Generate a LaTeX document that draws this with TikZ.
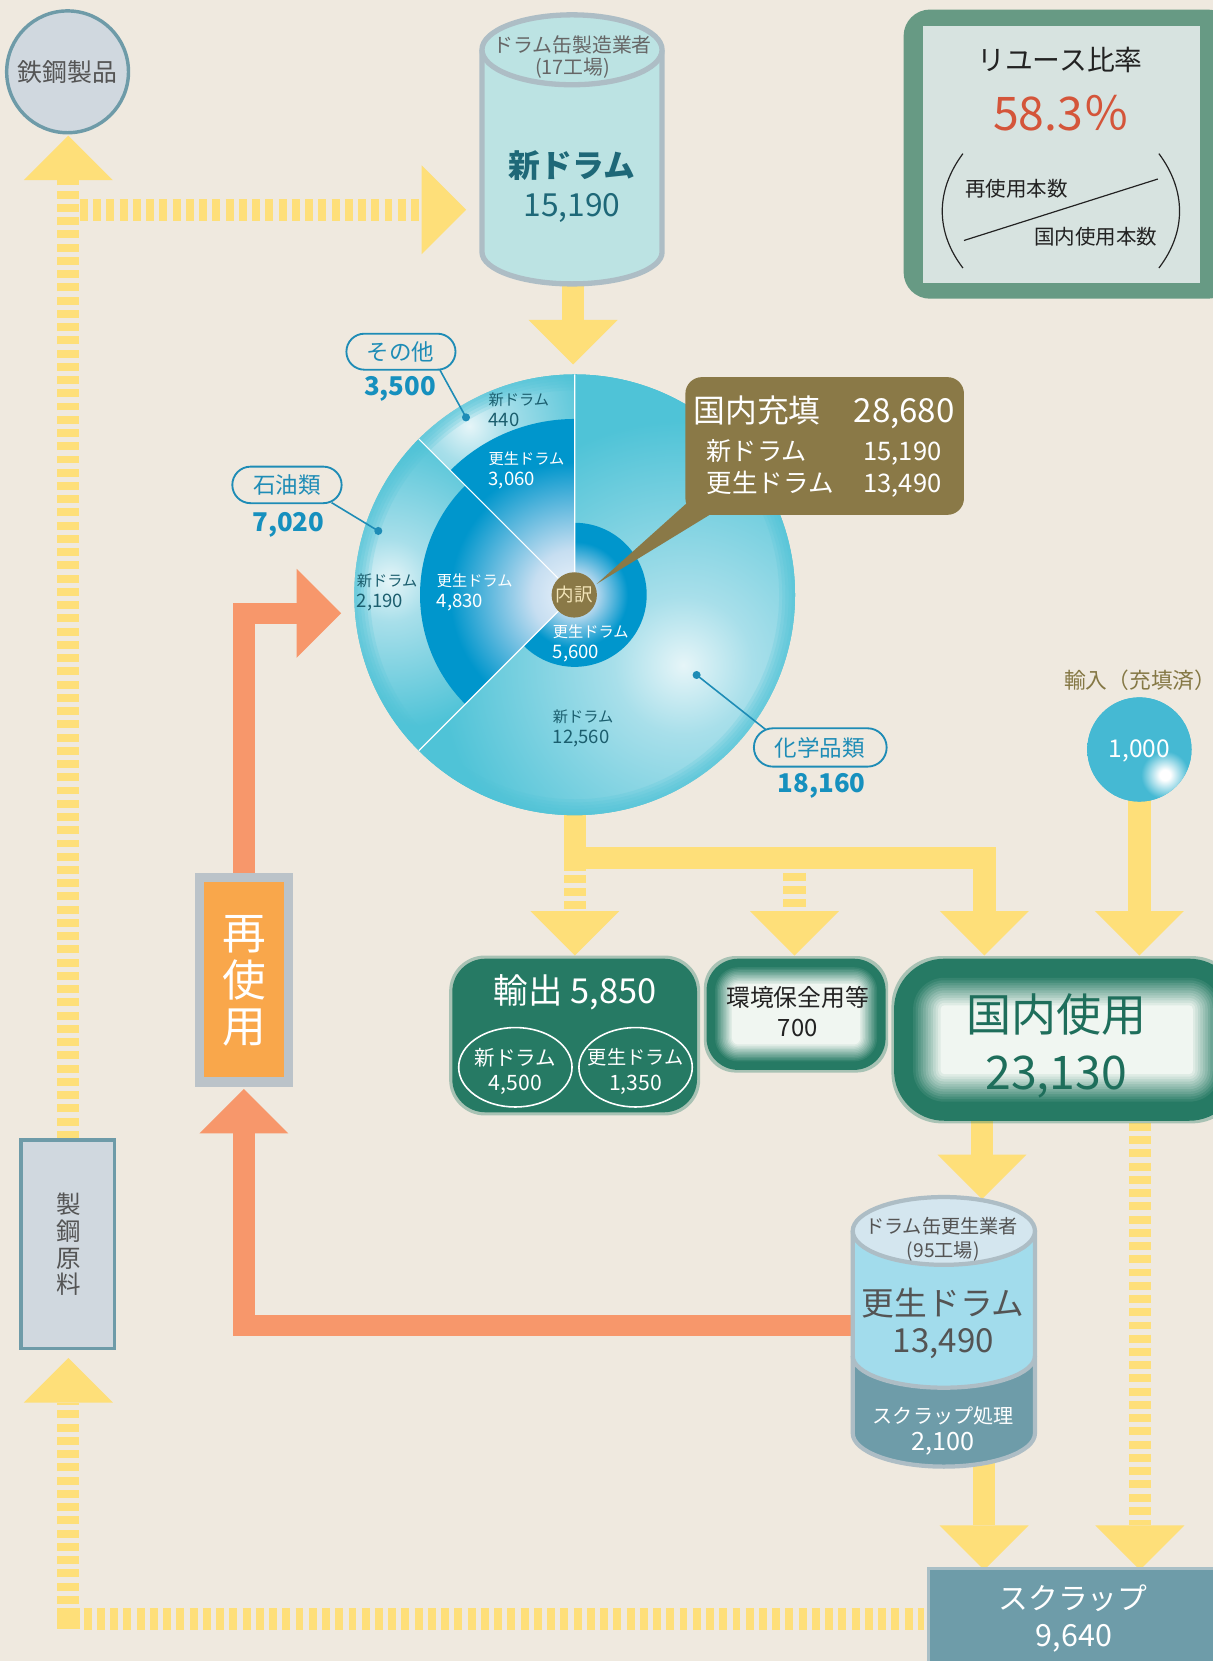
\documentclass[tikz,border=0pt]{standalone}
\usepackage{fontspec}
\setmainfont{Noto Sans CJK JP}
\usetikzlibrary{calc}
\definecolor{bg}{HTML}{EFE9DF}
\definecolor{yel}{HTML}{FEDF79}
\definecolor{ora}{HTML}{F7976B}
\definecolor{reuse}{HTML}{F9A74B}
\definecolor{reusebd}{HTML}{BBC3C9}
\definecolor{steel}{HTML}{D0D8DF}
\definecolor{steelbd}{HTML}{6E9BA8}
\definecolor{cylA}{HTML}{BCE3E3}
\definecolor{cylbd}{HTML}{ADBDC5}
\definecolor{tealt}{HTML}{1E6878}
\definecolor{graytxt}{HTML}{666666}
\definecolor{darkgray}{HTML}{545454}
\definecolor{oul}{HTML}{E6F5F8}
\definecolor{oum}{HTML}{A8DFEA}
\definecolor{oue}{HTML}{4FC3D7}
\definecolor{il0}{HTML}{EEF4FB}
\definecolor{il1}{HTML}{C6DEF1}
\definecolor{inb}{HTML}{0096CC}
\definecolor{olive}{HTML}{8A7947}
\definecolor{naiyaku}{HTML}{F2E4B8}
\definecolor{pillc}{HTML}{1E8CB6}
\definecolor{numc}{HTML}{1690BE}
\definecolor{dteal}{HTML}{1B5E6E}
\definecolor{gdark}{HTML}{267A64}
\definecolor{glight}{HTML}{F0F6F1}
\definecolor{gtext}{HTML}{1E6E5B}
\definecolor{ratioout}{HTML}{679A84}
\definecolor{ratioin}{HTML}{D7E3E0}
\definecolor{ratiored}{HTML}{D4553A}
\definecolor{ratiotxt}{HTML}{222222}
\definecolor{cylBbody}{HTML}{A2DCEC}
\definecolor{cylBtop}{HTML}{D4E6EF}
\definecolor{cylBlow}{HTML}{6E9CA9}
\definecolor{scrapbd}{HTML}{A9BFC6}
\definecolor{imp}{HTML}{45B9D3}
\definecolor{impttl}{HTML}{857845}

% shadings at natural size (1 drawing unit = 0.8pt ~ 0.8bp)
\pgfdeclareradialshading{shSono}{\pgfpoint{0bp}{0bp}}{color(0bp)=(oul); color(27bp)=(oum); color(96bp)=(oue); color(400bp)=(oue)}
\pgfdeclareradialshading{shSeki}{\pgfpoint{0bp}{0bp}}{color(0bp)=(oul); color(31bp)=(oum); color(112bp)=(oue); color(400bp)=(oue)}
\pgfdeclareradialshading{shChem}{\pgfpoint{0bp}{0bp}}{color(0bp)=(oul); color(52bp)=(oum); color(184bp)=(oue); color(400bp)=(oue)}
\pgfdeclareradialshading{shIn56}{\pgfpoint{0bp}{0bp}}{color(0bp)=(il0); color(14bp)=(il1); color(40bp)=(inb); color(200bp)=(inb)}
\pgfdeclareradialshading{shIn30}{\pgfpoint{0bp}{0bp}}{color(0bp)=(il0); color(34bp)=(il1); color(100bp)=(inb); color(200bp)=(inb)}
\pgfdeclareradialshading{shIn48}{\pgfpoint{0bp}{0bp}}{color(0bp)=(il0); color(32bp)=(il1); color(94bp)=(inb); color(200bp)=(inb)}
\pgfdeclareradialshading{shHil}{\pgfpoint{0bp}{0bp}}{color(0bp)=(white); color(4bp)=(white); color(18bp)=(imp); color(120bp)=(imp)}

\newcommand\jtxt[5]{%
  \pgfmathsetmacro\jtxth{0.76*#3}%
  \node[inner sep=0pt, text height=\jtxth pt, text depth=0pt, font=\fontsize{#3}{#3}\selectfont, #4] (#1) at (#2) {#5};}
\newcommand\arDown[2][yel]{\fill[#1] ($(#2)+(-42,0)$) -- ($(#2)+(42,0)$) -- ($(#2)+(0,42)$) -- cycle;}
\newcommand\arUp[2][yel]{\fill[#1] ($(#2)+(-42,0)$) -- ($(#2)+(42,0)$) -- ($(#2)+(0,-42)$) -- cycle;}
\newcommand\arRight[2][yel]{\fill[#1] ($(#2)+(0,-42)$) -- ($(#2)+(0,42)$) -- ($(#2)+(42,0)$) -- cycle;}
\newcommand\glowbox[7]{%
  \fill[gdark, opacity=0.35, rounded corners=#5pt] ($(#1,#2)+(-2.5,-2.5)$) rectangle ($(#3,#4)+(2.5,2.5)$);
  \fill[gdark, rounded corners=#5pt] (#1,#2) rectangle (#3,#4);
  \foreach \k in {1,...,12}{%
    \pgfmathsetmacro\gdd{#6+(\k-1)*#7/11}%
    \pgfmathtruncatemacro\gpp{\k*100/12}%
    \pgfmathsetmacro\grr{max(#5-\gdd*0.8,2)}%
    \fill[glight!\gpp!gdark, rounded corners=\grr pt] ($(#1,#2)+(\gdd,\gdd)$) rectangle ($(#3,#4)-(\gdd,\gdd)$);
  }}

\begin{document}
\begin{tikzpicture}[x=0.8pt,y=-0.8pt,
  ysol/.style={draw=yel, line width=16.8pt},
  ydash/.style={draw=yel, line width=16.8pt, dash pattern=on 6pt off 4pt},
  oline/.style={draw=ora, line width=16pt, line join=miter},
  pill/.style={draw=pillc, line width=1.4pt, fill=bg},
  leader/.style={draw=pillc, line width=1.2pt},
  shnode/.style={inner sep=0pt, outer sep=0pt}]
\useasboundingbox (0,0) rectangle (1145,1568);
\fill[bg] (0,0) rectangle (1145,1568);
\clip (0,0) rectangle (1145,1568);

% ================= coordinates for flows
\coordinate (kouT) at (64.5,1075);
\coordinate (tlUp) at (64.5,170);
\coordinate (tlH0) at (75.5,198);
\coordinate (tlHr) at (398,198);
\coordinate (cylAbot) at (541,266);
\coordinate (hA) at (541,302);
\coordinate (blH0) at (79,1528);
\coordinate (blH1) at (872,1528);
\coordinate (blV0) at (64.5,1514);
\coordinate (blUp) at (64.5,1324);
\coordinate (dBot) at (542.7,768);
\coordinate (dJ) at (542.7,822);
\coordinate (dD0) at (542.7,826);
\coordinate (hL) at (542.7,860);
\coordinate (hBar) at (542.7,810);
\coordinate (hBarR) at (929.3,810);
\coordinate (hR) at (929.3,860);
\coordinate (mD0) at (750,824);
\coordinate (hM) at (750,860);
\coordinate (impB) at (1075.6,755);
\coordinate (hI) at (1075.6,860);
\coordinate (kokB) at (927,1056);
\coordinate (hK) at (927,1090);
\coordinate (kokB2) at (1076,1060);
\coordinate (hS2) at (1076,1440);
\coordinate (cylBbot) at (929,1380);
\coordinate (hS1) at (929,1440);
\coordinate (oS) at (806,1251);
\coordinate (oC1) at (230.3,1251);
\coordinate (oUp) at (230.3,1070);
\coordinate (oT) at (230.3,826);
\coordinate (oC2) at (230.3,579);
\coordinate (oR) at (280,579);

% ================= yellow flows
\draw[ydash] (kouT) -- (tlUp); \arUp{tlUp}
\draw[ydash] (tlH0) -- (tlHr); \arRight{tlHr}
\draw[ysol] (cylAbot) -- (hA); \arDown{hA}
\fill[yel] (53.5,1518) rectangle (75.5,1538);
\draw[ydash] (blH0) -- (blH1);
\draw[ydash] (blV0) -- (blUp); \arUp{blUp}
\draw[ysol] (dBot) -- (dJ);
\draw[ydash] (dD0) -- (hL); \arDown{hL}
\draw[ysol, line join=miter] (hBar) -- (hBarR) -- (hR); \arDown{hR}
\draw[ydash] (mD0) -- (hM); \arDown{hM}
\draw[ysol] (impB) -- (hI); \arDown{hI}
\draw[ysol] (kokB) -- (hK); \arDown{hK}
\draw[ydash] (kokB2) -- (hS2); \arDown{hS2}
\draw[ysol] (cylBbot) -- (hS1); \arDown{hS1}

% ================= orange flows
\draw[oline] (oS) -- (oC1) -- (oUp); \arUp[ora]{oUp}
\draw[oline] (oT) -- (oC2) -- (oR); \arRight[ora]{oR}

% ================= steel product circle
\draw[fill=steel, draw=steelbd, line width=2.6pt] (63.8,67.8) circle (57.5);
\jtxt{tekko}{63.8,67.8}{18.8}{color=darkgray}{鉄鋼製品}

% ================= steelmaking raw material box
\draw[fill=steel, draw=steelbd, line width=2.6pt] (20,1076) rectangle (108,1273);
\jtxt{k1}{64.5,1137}{18.5}{color=darkgray}{製}
\jtxt{k2}{64.5,1162.5}{18.5}{color=darkgray}{鋼}
\jtxt{k3}{64.5,1187.5}{18.5}{color=darkgray}{原}
\jtxt{k4}{64.5,1212}{18.5}{color=darkgray}{料}

% ================= reuse box
\fill[reusebd] (184,824) rectangle (277,1026);
\fill[reuse] (193,833) rectangle (268,1017);
\jtxt{r1}{230.3,880.7}{33}{color=white}{再}
\jtxt{r2}{230.3,924.7}{33}{color=white}{使}
\jtxt{r3}{230.3,968.6}{33}{color=white}{用}

% ================= new drum cylinder
\fill[cylA] (455,47) rectangle (625,238);
\fill[cylA] (540,238) ellipse [x radius=85, y radius=30];
\draw[cylbd, line width=4pt] (455,47) -- (455,238) arc[start angle=180, end angle=0, x radius=85, y radius=30] -- (625,47);
\draw[cylbd, line width=4pt, fill=cylA] (540,47) ellipse [x radius=85, y radius=33];
\jtxt{mfg1}{540.6,42.5}{15}{color=graytxt}{ドラム缶製造業者}
\jtxt{mfg2}{540.6,63}{15}{color=graytxt}{(17工場)}
\jtxt{newd}{540,155.7}{24}{color=tealt, font=\fontsize{24}{24}\selectfont\bfseries}{新ドラム}
\jtxt{newn}{540,192.6}{24}{color=tealt}{15,190}

% ================= donut chart
\coordinate (dc) at (542.5,561.5);
\fill[oue] (dc) circle (208);
\begin{scope}
  \clip (dc) -- ++(-90:208) arc[start angle=-90, end angle=-135, radius=208] -- cycle;
  \node[shnode] (shA) at (443,402) {\pgfuseshading{shSono}};
\end{scope}
\begin{scope}
  \clip (dc) -- ++(-135:208) arc[start angle=-135, end angle=-225, radius=208] -- cycle;
  \node[shnode] (shB) at (368,548) {\pgfuseshading{shSeki}};
\end{scope}
\begin{scope}
  \clip (dc) -- ++(-225:208) arc[start angle=-225, end angle=-450, radius=208] -- cycle;
  \node[shnode] (shC) at (645,628) {\pgfuseshading{shChem}};
\end{scope}
\begin{scope}
  \clip (dc) circle (208);
  \foreach \w in {6,12,18,24,30}{\draw[oue, opacity=0.2, line width=\w*0.8pt] (dc) circle (208);}
\end{scope}
\begin{scope}
  \clip (dc) circle (68);
  \node[shnode] (shD) at (dc) {\pgfuseshading{shIn56}};
\end{scope}
\begin{scope}
  \clip (dc) -- ++(-90:166) arc[start angle=-90, end angle=-135, radius=166] -- cycle;
  \node[shnode] (shE) at (dc) {\pgfuseshading{shIn30}};
\end{scope}
\begin{scope}
  \clip (dc) -- ++(-135:146) arc[start angle=-135, end angle=-225, radius=146] -- cycle;
  \node[shnode] (shF) at (dc) {\pgfuseshading{shIn48}};
\end{scope}
\draw[white, line width=0.9pt] (dc) -- ++(-90:208) (dc) -- ++(-135:208) (dc) -- ++(-225:208);

% donut labels
\jtxt{l1a}{461,377.6}{11.5}{anchor=west, color=dteal}{新ドラム}
\jtxt{l1b}{461,395.8}{14}{anchor=west, color=dteal}{440}
\jtxt{l2a}{461,432.6}{11.5}{anchor=west, color=white}{更生ドラム}
\jtxt{l2b}{461,451.5}{14}{anchor=west, color=white}{3,060}
\jtxt{l3a}{336.7,548.1}{11.5}{anchor=west, color=dteal}{新ドラム}
\jtxt{l3b}{336.7,567}{14}{anchor=west, color=dteal}{2,190}
\jtxt{l4a}{412.2,548}{11.5}{anchor=west, color=white}{更生ドラム}
\jtxt{l4b}{412.2,567}{14}{anchor=west, color=white}{4,830}
\jtxt{l5a}{521.7,596.2}{11.5}{anchor=west, color=white}{更生ドラム}
\jtxt{l5b}{521.7,615}{14}{anchor=west, color=white}{5,600}
\jtxt{l6a}{521.7,677}{11.5}{anchor=west, color=dteal}{新ドラム}
\jtxt{l6b}{521.7,695.4}{14}{anchor=west, color=dteal}{12,560}

% category pills and leaders
\draw[leader] (415.3,349.3) -- (439.9,394); \fill[pillc] (439.9,394) circle (3.8);
\draw[leader] (313,474.5) -- (357.1,501.2); \fill[pillc] (357.1,501.2) circle (3.8);
\draw[leader] (725.2,690.6) -- (657.6,637.2); \fill[pillc] (657.6,637.2) circle (3.8);
\draw[pill, rounded corners=13.6pt] (327,315) rectangle (430,349);
\draw[pill, rounded corners=13.8pt] (219.3,440.5) rectangle (322.5,475);
\draw[pill, rounded corners=14.4pt] (711.7,687.5) rectangle (837,723.7);
\jtxt{p1}{378,332}{17}{color=pillc}{その他}
\jtxt{p2}{271,458}{17}{color=pillc}{石油類}
\jtxt{p3}{774,706}{17}{color=pillc}{化学品類}
\jtxt{n1}{377.6,364.4}{19.5}{color=numc, font=\fontsize{19.5}{19.5}\selectfont\bfseries}{3,500}
\jtxt{n2}{272.2,492.4}{19.5}{color=numc, font=\fontsize{19.5}{19.5}\selectfont\bfseries}{7,020}
\jtxt{n3}{775.6,738.8}{19.5}{color=numc, font=\fontsize{19.5}{19.5}\selectfont\bfseries}{18,160}

% callout
\fill[olive] (563.2,551.3) -- (660,464.5) -- (690,473.7) -- cycle;
\fill[olive, rounded corners=12.5pt] (647,356) rectangle (910,486);
\jtxt{c1}{654.5,387}{24}{anchor=west, color=white}{国内充填}
\jtxt{c2}{901.5,387}{25}{anchor=east, color=white}{28,680}
\jtxt{c3}{667,425.4}{19}{anchor=west, color=white}{新ドラム}
\jtxt{c4}{889,425.4}{19.3}{anchor=east, color=white}{15,190}
\jtxt{c5}{667,456.2}{19.3}{anchor=west, color=white}{更生ドラム}
\jtxt{c6}{889,456.2}{19.3}{anchor=east, color=white}{13,490}
\fill[olive] (542.1,561.6) circle (21.4);
\jtxt{naiy}{542.1,561.6}{14}{color=naiyaku}{内訳}

% ================= import circle
\jtxt{impt}{1004.3,641.9}{16.4}{anchor=west, color=impttl}{輸入（充填済）}
\fill[imp] (1075.6,707.5) circle (49.2);
\begin{scope}
  \clip (1075.6,707.5) circle (49.2);
  \node[shnode] (shG) at (1099.7,731.5) {\pgfuseshading{shHil}};
\end{scope}
\jtxt{impn}{1075.4,706.4}{18.5}{color=white}{1,000}

% ================= export box
\fill[gdark, opacity=0.35, rounded corners=27pt] (424,902) rectangle (661,1053);
\fill[gdark, rounded corners=25pt] (427,905) rectangle (658,1050);
\jtxt{ex}{543,935}{26}{color=white}{輸出 5,850}
\draw[white, line width=1.2pt] (486.5,1007.5) ellipse [x radius=53.5, y radius=37.5];
\draw[white, line width=1.2pt] (600,1007.5) ellipse [x radius=53.5, y radius=37.5];
\jtxt{ex1}{486.5,998}{15.5}{color=white}{新ドラム}
\jtxt{ex2}{486.5,1022}{16}{color=white}{4,500}
\jtxt{ex3}{600,998}{14.5}{color=white}{更生ドラム}
\jtxt{ex4}{600,1022}{16}{color=white}{1,350}

% ================= environment box
\glowbox{667}{905}{836}{1010}{24}{8}{16}
\jtxt{env1}{753,942}{18}{color=ratiotxt}{環境保全用等}
\jtxt{env2}{753,970}{18}{color=ratiotxt}{700}

% ================= domestic use box
\glowbox{844}{905}{1170}{1058}{38}{18}{26}
\jtxt{dom1}{997,958}{34}{color=gtext}{国内使用}
\jtxt{dom2}{997,1012}{35}{color=gtext}{23,130}

% ================= reconditioned drum cylinder
\fill[cylBbody] (805,1162) rectangle (977,1280);
\fill[cylBlow] (805,1280) rectangle (977,1353);
\fill[cylBlow] (891,1353) ellipse [x radius=86, y radius=31.5];
\fill[cylBbody] (891,1280) ellipse [x radius=86, y radius=30];
\draw[cylbd, line width=3.2pt] (805,1280) arc[start angle=180, end angle=0, x radius=86, y radius=30];
\draw[cylbd, line width=3.2pt] (805,1162) -- (805,1353) arc[start angle=180, end angle=0, x radius=86, y radius=31.5] -- (977,1162);
\draw[cylbd, line width=3.2pt, fill=cylBtop] (891,1162) ellipse [x radius=86, y radius=32];
\jtxt{rec1}{888.9,1157.9}{14.5}{color=darkgray}{ドラム缶更生業者}
\jtxt{rec2}{890.4,1180.5}{14.5}{color=darkgray}{(95工場)}
\jtxt{rec3}{890.4,1230.3}{24.7}{color=darkgray}{更生ドラム}
\jtxt{rec4}{890.4,1264.9}{25}{color=darkgray}{13,490}
\jtxt{rec5}{890.4,1336.6}{15.2}{color=white}{スクラップ処理}
\jtxt{rec6}{890.4,1360}{19}{color=white}{2,100}

% ================= scrap box
\draw[fill=cylBlow, draw=scrapbd, line width=2pt] (876.3,1480.4) rectangle (1160,1580);
\jtxt{scr1}{1013,1508.7}{22.5}{color=white}{スクラップ}
\jtxt{scr2}{1013.8,1543.3}{23}{color=white}{9,640}

% ================= reuse ratio box
\fill[ratioout, rounded corners=20pt] (853,9) rectangle (1165,282);
\fill[ratioin] (871,25) rectangle (1133,267);
\jtxt{rt1}{1000.6,56.6}{21}{color=ratiotxt}{リユース比率}
\jtxt{rt2}{1002,107}{35}{color=ratiored}{58.3％}
\draw[ratiotxt, line width=0.9pt] (909,145) .. controls (883,180) and (883,219) .. (909,253);
\draw[ratiotxt, line width=0.9pt] (1094,145) .. controls (1120,180) and (1120,219) .. (1094,253);
\draw[ratiotxt, line width=0.9pt] (910,227) -- (1093,169);
\jtxt{rt3}{959.7,177.8}{15.5}{color=ratiotxt}{再使用本数}
\jtxt{rt4}{1034.5,223.4}{15.5}{color=ratiotxt}{国内使用本数}
\end{tikzpicture}
\end{document}
